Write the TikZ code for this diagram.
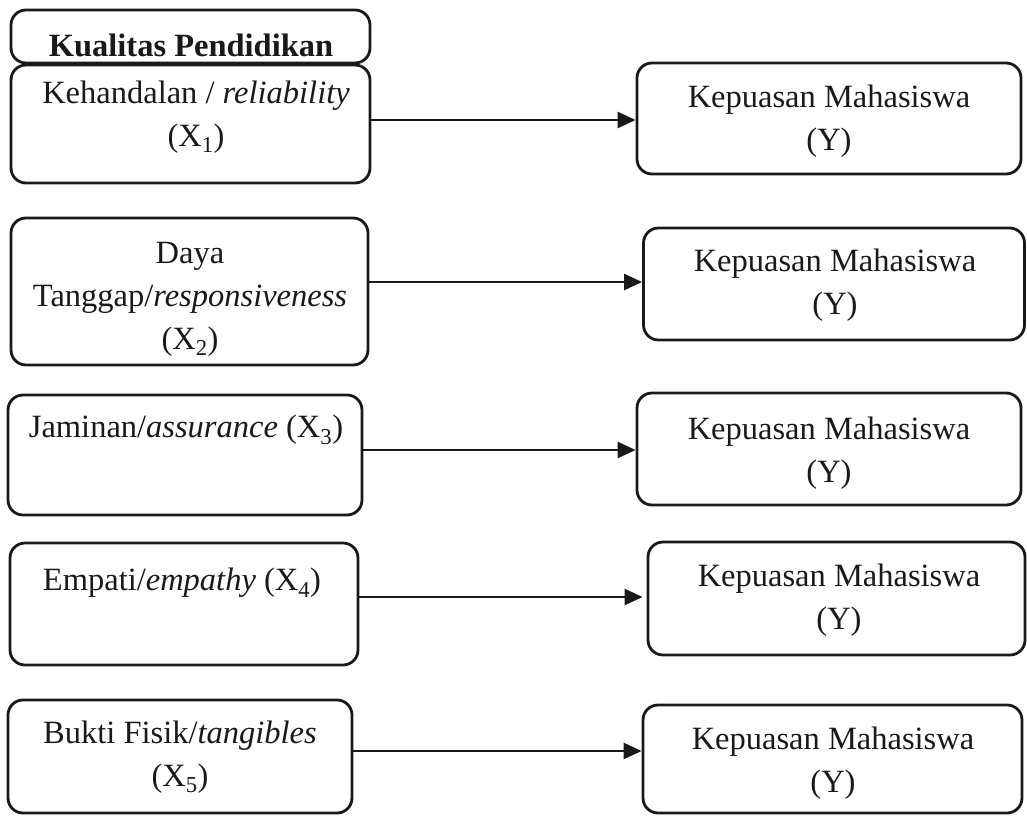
\documentclass[tikz,border=0pt]{standalone}
\usepackage{fontspec}
\setmainfont{Liberation Serif}
\usetikzlibrary{arrows.meta}
\tikzset{
  boxnode/.style={draw=black!90, line width=2.8pt, rounded corners=15pt, inner sep=0pt},
  txt/.style={align=center, inner sep=0pt, text=black!90, font=\fontsize{32.5}{43}\selectfont},
  arr/.style={draw=black!90, line width=2.5pt, -{Triangle[length=18pt,width=16pt]}}
}
\begin{document}
\begin{tikzpicture}[x=1pt,y=-1pt]
\useasboundingbox (0,0) rectangle (1027,816);
% left boxes
\node[boxnode, minimum width=359pt, minimum height=53pt] (h) at (190.5,36.5) {};
\node[boxnode, minimum width=359pt, minimum height=118pt] (x1) at (190.5,124) {};
\node[boxnode, minimum width=357pt, minimum height=147pt] (x2) at (189.5,291.5) {};
\node[boxnode, minimum width=354pt, minimum height=120pt] (x3) at (185,455) {};
\node[boxnode, minimum width=348pt, minimum height=122pt] (x4) at (184,604) {};
\node[boxnode, minimum width=344pt, minimum height=113pt] (x5) at (180,756.5) {};
% right boxes
\node[boxnode, minimum width=384pt, minimum height=111pt] (y1) at (829,118.5) {};
\node[boxnode, minimum width=381pt, minimum height=112pt] (y2) at (834,284) {};
\node[boxnode, minimum width=384pt, minimum height=112pt] (y3) at (829,449) {};
\node[boxnode, minimum width=377pt, minimum height=113pt] (y4) at (836.5,598.5) {};
\node[boxnode, minimum width=379pt, minimum height=108pt] (y5) at (832.5,759) {};
% texts
\node[txt] (th) at (191,45) {\textbf{Kualitas Pendidikan}};
\node[txt] (t1) at (196,117) {Kehandalan / \textit{reliability}\\(X\textsubscript{1})};
\node[txt] (t2) at (190,299) {Daya\\Tanggap/\textit{responsiveness}\\(X\textsubscript{2})};
\node[txt] (t3) at (186,430) {Jaminan/\textit{assurance} (X\textsubscript{3})};
\node[txt] (t4) at (182,583) {Empati/\textit{empathy} (X\textsubscript{4})};
\node[txt] (t5) at (180,757) {Bukti Fisik/\textit{tangibles}\\(X\textsubscript{5})};
\node[txt] (s1) at (829,121) {Kepuasan Mahasiswa\\(Y)};
\node[txt] (s2) at (835,285.5) {Kepuasan Mahasiswa\\(Y)};
\node[txt] (s3) at (829,453) {Kepuasan Mahasiswa\\(Y)};
\node[txt] (s4) at (839,600) {Kepuasan Mahasiswa\\(Y)};
\node[txt] (s5) at (833,763) {Kepuasan Mahasiswa\\(Y)};
% arrow levels
\coordinate (a1) at (0,120);
\coordinate (a2) at (0,282);
\coordinate (a3) at (0,450);
\coordinate (a4) at (0,597);
\coordinate (a5) at (0,751);
\draw[arr] (x1.east |- a1) -- (y1.west |- a1);
\draw[arr] (x2.east |- a2) -- (y2.west |- a2);
\draw[arr] (x3.east |- a3) -- (y3.west |- a3);
\draw[arr,shorten >=4pt] (x4.east |- a4) -- (y4.west |- a4);
\draw[arr] (x5.east |- a5) -- (y5.west |- a5);
\end{tikzpicture}
\end{document}
